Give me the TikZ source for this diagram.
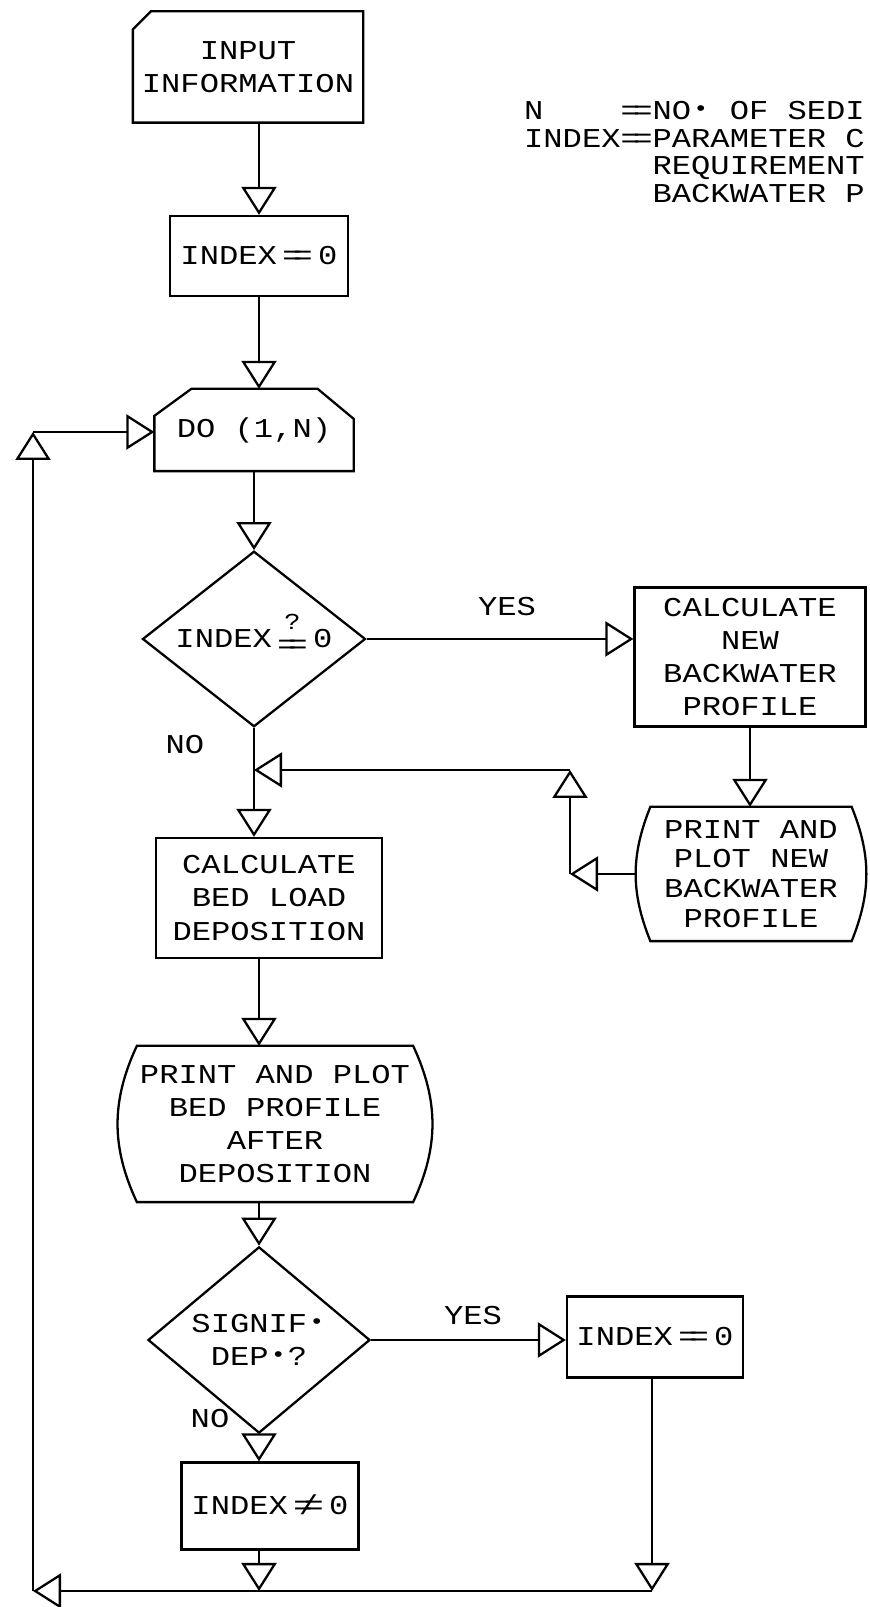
\documentclass[tikz,border=0pt]{standalone}
\usepackage{fontspec}
\setmonofont[FakeStretch=1.18]{Liberation Mono}
\usetikzlibrary{arrows.meta, shapes.geometric, calc}

% typed symbols of the print-out
\newcommand{\weq}{=\kern-0.3em=}
\newcommand{\longeq}{=\kern-0.24em=}
\newcommand{\boxeq}{\kern0.2em\weq\kern0.2em}
\newcommand{\qeq}{\kern0.2em\ooalign{\raisebox{-0.2em}{\weq}\cr
    \hidewidth\raisebox{0.66em}{\fontsize{13}{13}\selectfont ?}\hidewidth\cr}\kern0.2em}
\newcommand{\noteq}{\kern0.2em\ooalign{\weq\cr\hidewidth/\hidewidth\cr}\kern0.2em}
\newcommand{\pdot}{\makebox[\fontcharwd\font`\0]{\raisebox{0.15em}{\fontsize{12}{12}\selectfont\textbullet}}}

\begin{document}
\begin{tikzpicture}[
    line width=1.3pt,
    every node/.style={font=\ttfamily\fontsize{15.5}{18.8}\selectfont, inner sep=0pt},
]

% ---------------------------------------------------------------- styles
\tikzset{
    proc/.style={rectangle, draw, align=center},
    shell/.style={rectangle, align=center},
    test/.style={diamond, draw, align=center},
    flow/.style={-{Triangle[open, length=0.56cm, width=0.7cm]}},
}

\useasboundingbox (0,0) rectangle (17.38,32.14);

% ---------------------------------------------------------------- legend
\node[anchor=north west, align=left,
      font=\ttfamily\fontsize{15.5}{15.8}\selectfont] (legend) at (10.46, 30.14)
    {\makebox[5\fontcharwd\font`\0][l]{N}\longeq NO\pdot{} OF SEDI\\
     INDEX\longeq PARAMETER C\\
     \phantom{INDEX\longeq}REQUIREMENT\\
     \phantom{INDEX\longeq}BACKWATER P};

% ---------------------------------------------------------------- main column
\node[shell, minimum width=4.56cm, minimum height=2.18cm] (inp) at (4.96, 30.80)
    {INPUT\\INFORMATION};
\node[proc, minimum width=3.56cm, minimum height=1.6cm] (idx0) at (5.18, 27.02)
    {INDEX\boxeq 0};
\node[shell, minimum width=3.94cm, minimum height=1.6cm] (dobox) at (5.08, 23.54)
    {\raisebox{-3pt}{DO (1,N)}};
\node[test, minimum width=4.46cm, minimum height=2.94cm] (dec1) at (5.08, 19.36)
    {INDEX\qeq 0};
\node[proc, minimum width=4.52cm, minimum height=2.4cm] (calcbed) at (5.38, 14.18)
    {CALCULATE\\BED LOAD\\DEPOSITION};
\node[shell, minimum width=6.28cm, minimum height=3.08cm] (prtbed) at (5.5, 9.66)
    {PRINT AND PLOT\\BED PROFILE\\AFTER\\DEPOSITION};
\node[test, minimum width=4.44cm, minimum height=2.88cm] (dec2) at (5.18, 5.34)
    {SIGNIF\pdot\\DEP\pdot ?};
\node[proc, minimum width=3.54cm, minimum height=1.74cm] (idxne) at (5.4, 2.02)
    {INDEX\noteq 0};

% ---------------------------------------------------------------- right column
\node[proc, minimum width=4.62cm, minimum height=2.78cm] (calcnew) at (15.0, 19.0)
    {CALCULATE\\NEW\\BACKWATER\\PROFILE};
\node[shell, minimum width=4.58cm, minimum height=2.64cm,
      font=\ttfamily\fontsize{15.5}{17}\selectfont] (prtnew) at (15.02, 14.66)
    {PRINT AND\\PLOT NEW\\BACKWATER\\PROFILE};
\node[proc, minimum width=3.52cm, minimum height=1.62cm] (idx0b) at (13.1, 5.40)
    {INDEX\boxeq 0};

% labels
\node (yes1) at (10.14, 20.0) {YES};
\node (no1) at (3.7, 17.24) {NO};
\node (yes2) at (9.46, 5.82) {YES};
\node (no2) at (4.2, 3.76) {NO};

% ---------------------------------------------------------------- outlines
% card with the corner cut off
\draw (inp.south west) -- ($(inp.north west)+(0,-0.36)$) -- ($(inp.north west)+(0.36,0)$)
    -- (inp.north east) -- (inp.south east) -- cycle;
% loop box
\draw (dobox.south west) -- ($(dobox.north west)+(0,-0.54)$) -- ($(dobox.north west)+(0.74,0)$)
    -- ($(dobox.north east)+(-0.72,0)$) -- ($(dobox.north east)+(0,-0.6)$)
    -- (dobox.south east) -- cycle;
% print-out boxes
\draw ($(prtbed.north west)+(0.4,0)$) -- ($(prtbed.north east)+(-0.4,0)$)
    to[bend left=25] ($(prtbed.south east)+(-0.4,0)$) -- ($(prtbed.south west)+(0.4,0)$)
    to[bend left=25] ($(prtbed.north west)+(0.4,0)$) -- cycle;
\draw ($(prtnew.north west)+(0.3,0)$) -- ($(prtnew.north east)+(-0.3,0)$)
    to[bend left=22] ($(prtnew.south east)+(-0.3,0)$) -- ($(prtnew.south west)+(0.3,0)$)
    to[bend left=22] ($(prtnew.north west)+(0.3,0)$) -- cycle;

% ---------------------------------------------------------------- connectors
\coordinate (join1) at (5.08, 16.74);
\coordinate (fb1) at (11.4, 14.66);
\coordinate (fb2) at (11.4, 16.74);
\coordinate (rb) at (13.04, 0.32);
\coordinate (lb) at (0.66, 0.32);
\coordinate (lt) at (0.66, 23.5);

\draw[flow] (inp.south -| idx0.north) -- (idx0.north);
\draw[flow] (idx0.south) -- (idx0.south |- dobox.north);
\draw[flow] (dobox) -- (dec1);
\draw[flow] (dec1.east) -- (dec1.east -| calcnew.west);
\draw[flow] (calcnew.south) -- (calcnew.south |- prtnew.north);
\draw[flow] (prtnew.west) -- (fb1);
\draw[flow] (fb1) -- (fb2);
\draw[flow] (fb2) -- (join1);
\draw[flow] (dec1.south) -- (dec1.south |- calcbed.north);
\draw[flow] (calcbed.south -| dec2.north) -- (dec2.north |- prtbed.north);
\draw[flow] (prtbed.south -| dec2.north) -- (dec2.north);
\draw[flow] (dec2.east) -- (dec2.east -| idx0b.west);
\draw[flow] (dec2.south) -- (dec2.south |- idxne.north);
\draw[flow] (idxne.south -| dec2.south) -- (dec2.south |- rb);
\draw[flow] (idx0b.south -| rb) -- (rb);
\draw[flow] (rb) -- (lb);
\draw[flow] (lb) -- (lt);
\draw[flow] (lt) -- (lt -| dobox.west);

\end{tikzpicture}
\end{document}
